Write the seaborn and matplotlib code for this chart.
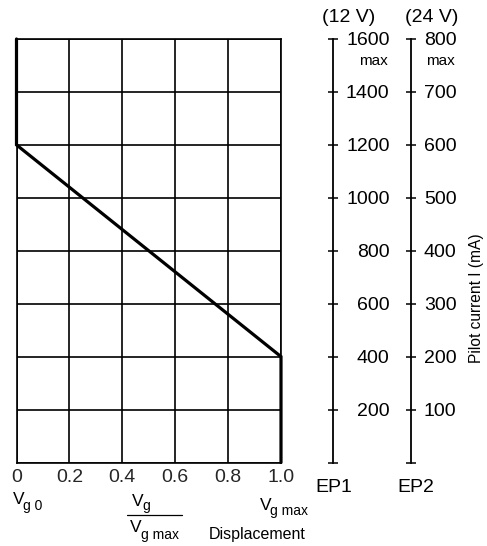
import matplotlib
matplotlib.use("Agg")
import matplotlib.pyplot as plt
import seaborn as sns
import pandas as pd

# Characteristic curve: displacement ratio vs pilot current (12 V scale)
displacement = [0.0, 0.0, 1.0, 1.0]
current_12v = [1600, 1200, 400, 0]

x_ticks = [0, 0.2, 0.4, 0.6, 0.8, 1.0]
x_tick_labels = ["0", "0.2", "0.4", "0.6", "0.8", "1.0"]
ep1_ticks = [0, 200, 400, 600, 800, 1000, 1200, 1400, 1600]
ep1_labels = ["", "200", "400", "600", "800", "1000", "1200", "1400", "1600"]
ep2_ticks = [0, 100, 200, 300, 400, 500, 600, 700, 800]
ep2_labels = ["", "100", "200", "300", "400", "500", "600", "700", "800"]

sns.set_theme(style="white")
plt.rcParams["font.family"] = ["Liberation Sans", "DejaVu Sans"]

W, H = 487, 546
fig = plt.figure(figsize=(W / 100, H / 100), dpi=100)

def fx(px):
    return px / W

def fy(py):
    return 1 - py / H

left, right, top, bottom = 16.5, 281.0, 39.0, 462.5
ax = fig.add_axes([fx(left), fy(bottom), fx(right - left), (bottom - top) / H])

df = pd.DataFrame({"disp": displacement, "current": current_12v})
sns.lineplot(data=df, x="disp", y="current", sort=False, estimator=None,
             color="black", linewidth=2.3, ax=ax, zorder=5)
for ln in ax.get_lines():
    ln.set_clip_on(False)
    ln.set_solid_joinstyle("miter")

ax.set_xlim(0, 1)
ax.set_ylim(0, 1600)
ax.set_xticks(x_ticks)
ax.set_xticklabels(x_tick_labels, fontsize=14)
ax.set_yticks(ep1_ticks)
ax.set_yticklabels([])
ax.tick_params(axis="x", length=0, pad=5)
ax.tick_params(axis="y", length=0)
ax.grid(True, color="black", linewidth=1.2)
ax.set_xlabel("")
ax.set_ylabel("")
for s in ax.spines.values():
    s.set_color("black")
    s.set_linewidth(1.2)

def current_axis(xpix, ymax, ticks, labels, label_right):
    a = fig.add_axes([fx(xpix), fy(bottom), 0.0005, (bottom - top) / H])
    a.set_facecolor("none")
    for name, s in a.spines.items():
        s.set_visible(name == "right")
    a.spines["right"].set_color("black")
    a.spines["right"].set_linewidth(1.3)
    a.set_ylim(0, ymax)
    a.set_xticks([])
    a.yaxis.set_ticks_position("right")
    a.set_yticks(ticks)
    a.set_yticklabels(labels, fontsize=14)
    pad_px = label_right - xpix - 3.5
    a.tick_params(axis="y", direction="inout", length=7, width=1.1,
                  colors="black", pad=pad_px * 0.72)
    for t in a.get_yticklabels():
        t.set_horizontalalignment("right")
    return a

current_axis(333.0, 1600, ep1_ticks, ep1_labels, 388)
current_axis(410.5, 800, ep2_ticks, ep2_labels, 455)

def txt(px, py, s, size, ha="center", va="center", **kw):
    fig.text(fx(px), fy(py), s, fontsize=size, ha=ha, va=va, color="black", **kw)

txt(349, 17, "(12 V)", 14)
txt(432, 17, "(24 V)", 14)
txt(388, 61, "max", 11, ha="right")
txt(455, 61, "max", 11, ha="right")
txt(334, 487, "EP1", 14)
txt(416, 487, "EP2", 14)

# V_g0 under the origin
txt(12.5, 499, "V", 12.5, ha="left")
txt(23, 506, "g 0", 10, ha="left")
# V_g max under 1.0
txt(259.5, 506, "V", 12.5, ha="left")
txt(270.5, 511, "g max", 10, ha="left")
# fraction Vg / Vg max
txt(131.5, 501, "V", 12.5, ha="left")
txt(142, 506, "g", 10, ha="left")
fig.add_artist(plt.Line2D([fx(127), fx(182)], [fy(515), fy(515)],
                          color="black", linewidth=0.9))
txt(129.5, 528, "V", 12.5, ha="left")
txt(141, 535, "g max", 10, ha="left")
txt(257, 535, "Displacement", 11.5)

txt(476, 298, "Pilot current I (mA)", 11.2, rotation=90)

fig.savefig("out.png", dpi=100)
